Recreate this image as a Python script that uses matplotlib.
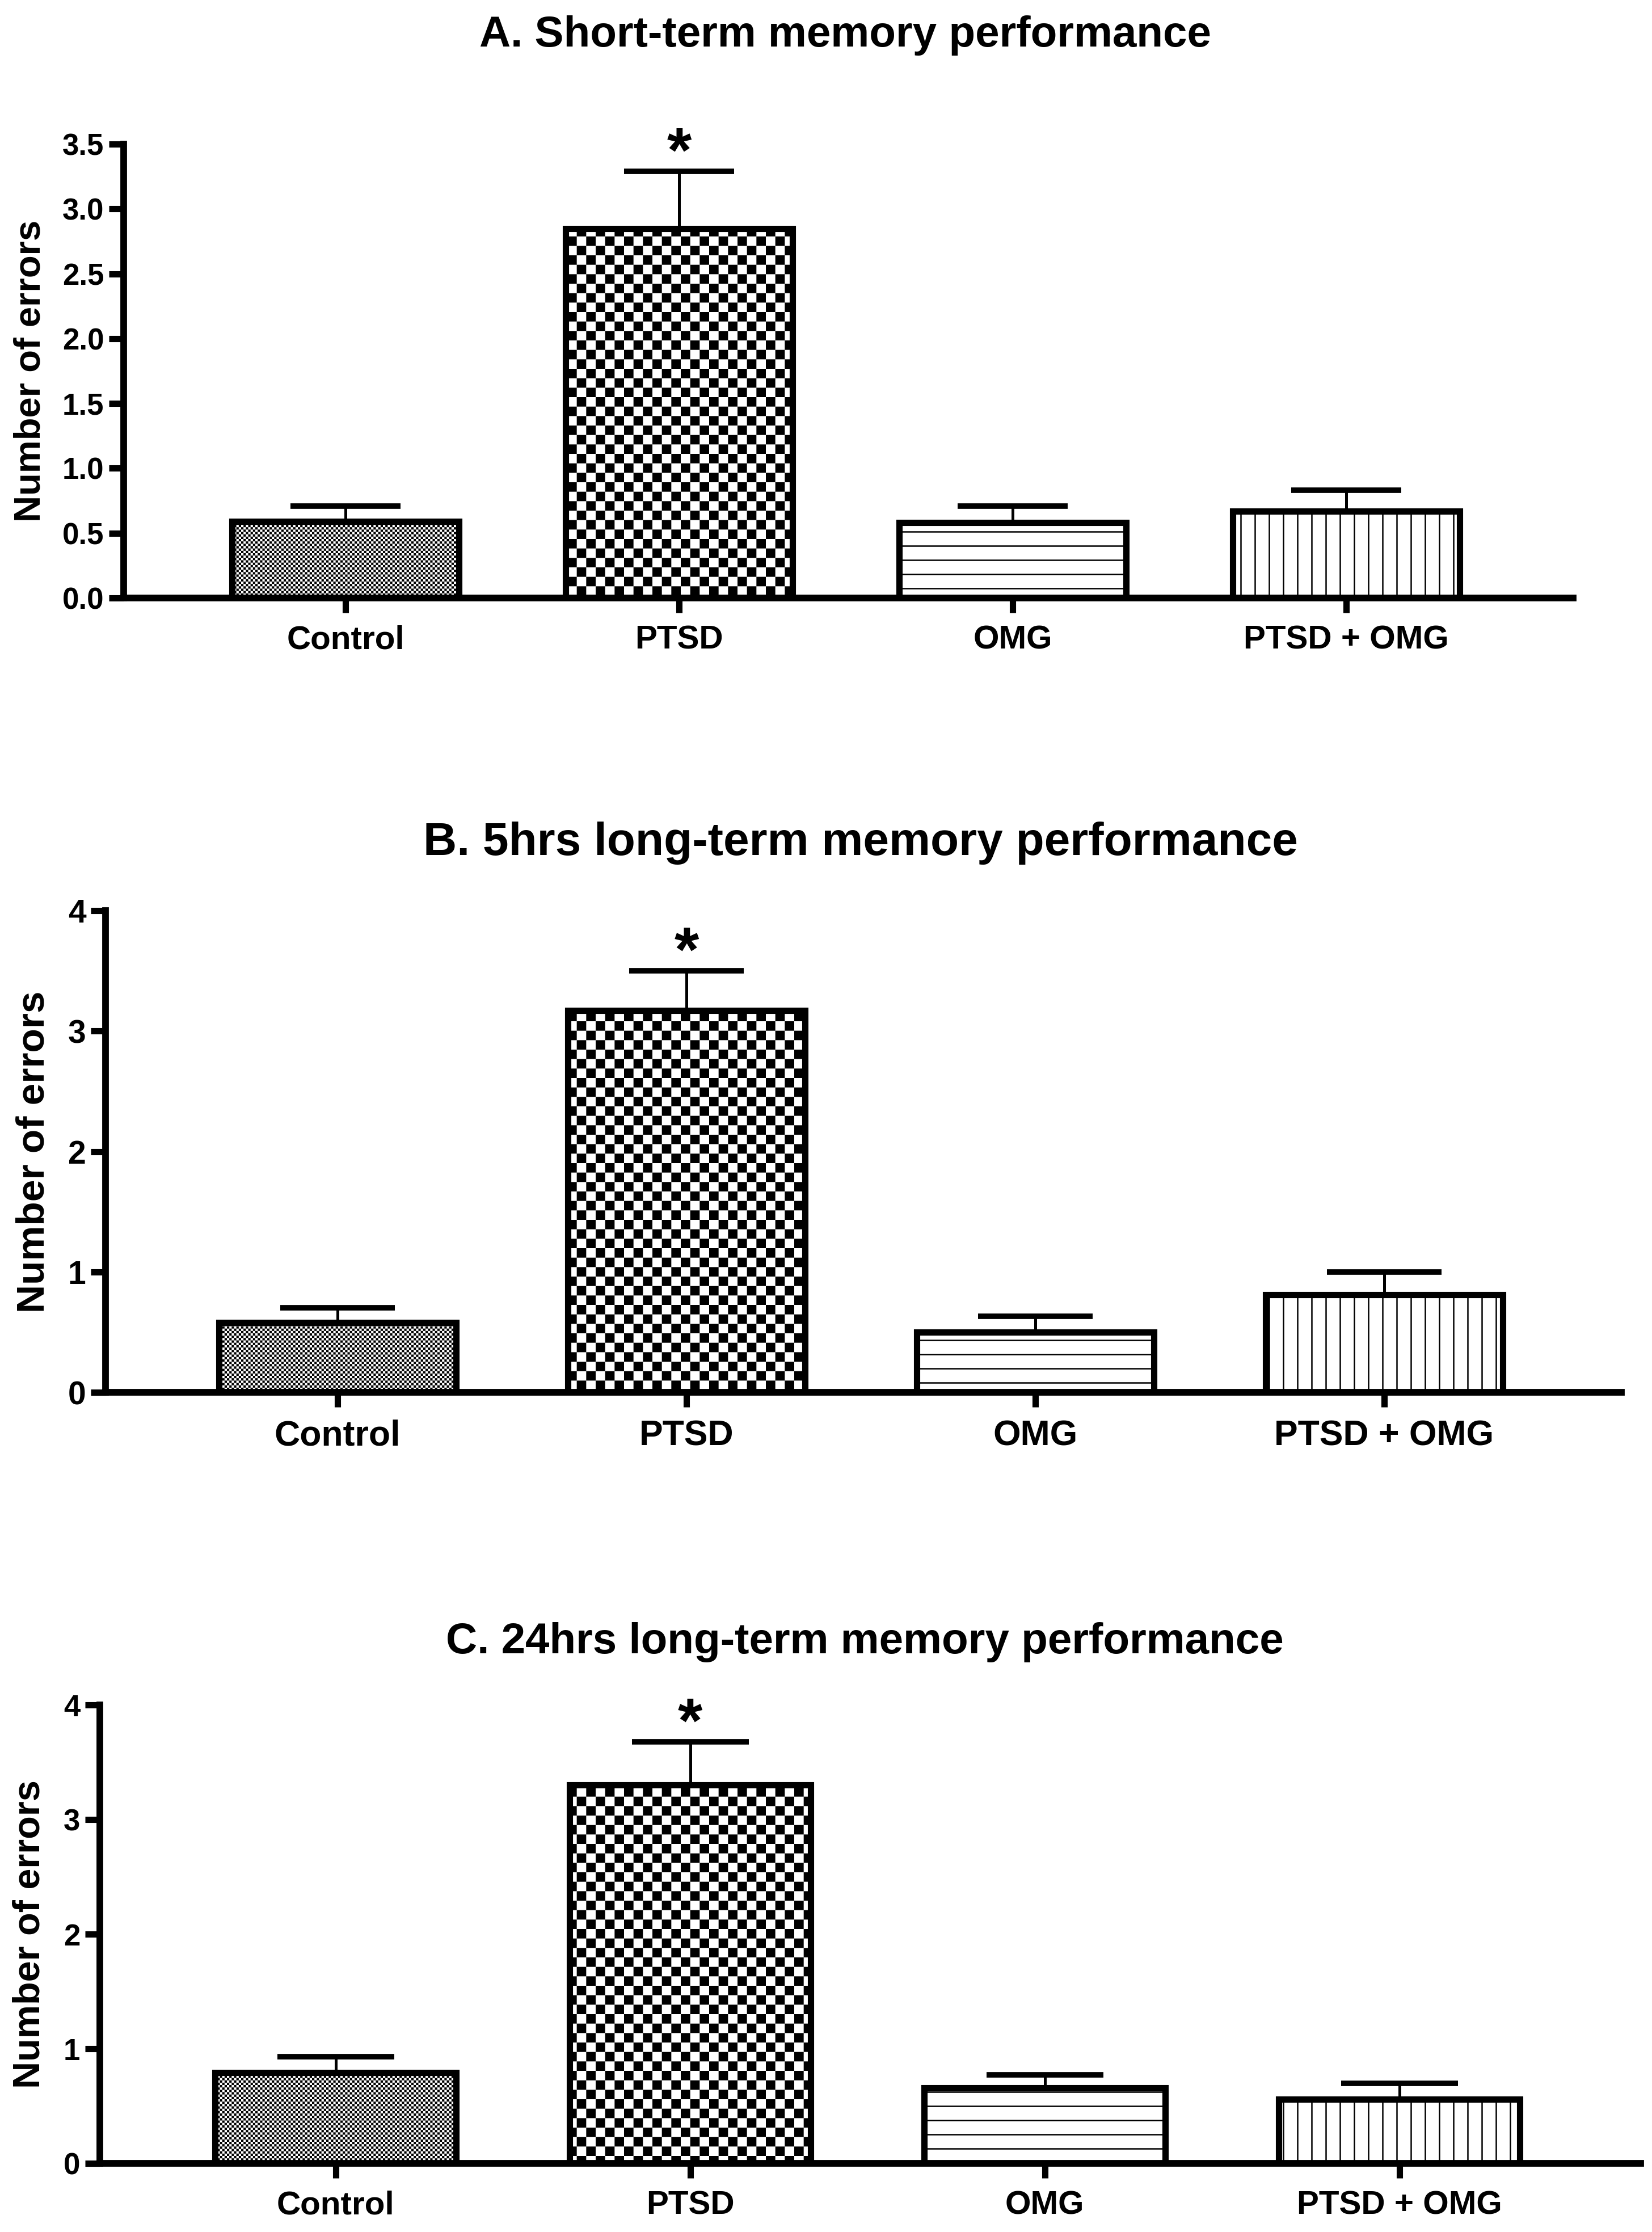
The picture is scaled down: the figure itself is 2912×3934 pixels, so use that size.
import numpy as np
import matplotlib
matplotlib.use('Agg')
import matplotlib as mpl
import matplotlib.pyplot as plt
import matplotlib.hatch as mhatch
from matplotlib.path import Path

# ---------------- data ----------------
groups = ['Control', 'PTSD', 'OMG', 'PTSD + OMG']
titles = ['A. Short-term memory performance',
          'B. 5hrs long-term memory performance',
          'C. 24hrs long-term memory performance']
ylabel_text = 'Number of errors'

means_a = [0.59, 2.85, 0.58, 0.67]
sem_a = [0.12, 0.44, 0.13, 0.16]
means_b = [0.58, 3.17, 0.50, 0.81]
sem_b = [0.12, 0.33, 0.13, 0.19]
means_c = [0.79, 3.30, 0.66, 0.56]
sem_c = [0.14, 0.38, 0.11, 0.14]

yticks_a = [0.0, 0.5, 1.0, 1.5, 2.0, 2.5, 3.0, 3.5]
yticklabels_a = ['0.0', '0.5', '1.0', '1.5', '2.0', '2.5', '3.0', '3.5']
yticks_bc = [0, 1, 2, 3, 4]
yticklabels_bc = ['0', '1', '2', '3', '4']
significant = ['', '*', '', '']

# ---------------- custom hatch patterns ----------------
mpl.rcParams['hatch.linewidth'] = 1.8


class _Lines(mhatch.HatchPatternBase):
    char = '-'
    per_tile = 4
    vertical = False

    def __init__(self, hatch, density):
        self.num_lines = self.per_tile * hatch.count(self.char)
        self.num_vertices = self.num_lines * 2

    def set_vertices_and_codes(self, vertices, codes):
        steps = (np.arange(self.num_lines) + 0.5) / self.num_lines
        a, b = (0, 1) if self.vertical else (1, 0)
        vertices[0::2, a] = steps
        vertices[0::2, b] = 0.0
        vertices[1::2, a] = steps
        vertices[1::2, b] = 1.0
        codes[0::2] = Path.MOVETO
        codes[1::2] = Path.LINETO


class _HLines(_Lines):
    char = '-'
    vertical = False


class _VLines(_Lines):
    char = '|'
    vertical = True


class _Checker(mhatch.HatchPatternBase):
    char = 'o'
    periods = 12
    filled = True

    def __init__(self, hatch, density):
        self.n = self.periods * 2 if self.char in hatch else 0
        self.cells = [(i, j) for i in range(self.n) for j in range(self.n)
                      if (i + j) % 2 == 0]
        self.num_vertices = len(self.cells) * 5

    def set_vertices_and_codes(self, vertices, codes):
        s = 1.0 / self.n
        g = min(mpl.rcParams['hatch.linewidth'] / 72.0, s * 0.8) / 2.0
        for k, (i, j) in enumerate(self.cells):
            x0, y0 = i * s + g, j * s + g
            x1, y1 = (i + 1) * s - g, (j + 1) * s - g
            vertices[5 * k:5 * k + 5] = [(x0, y0), (x1, y0), (x1, y1),
                                         (x0, y1), (x0, y0)]
            codes[5 * k:5 * k + 5] = [Path.MOVETO, Path.LINETO, Path.LINETO,
                                      Path.LINETO, Path.CLOSEPOLY]


class _SmallChecker(_Checker):
    char = 'o'
    periods = 12


class _LargeChecker(_Checker):
    char = 'O'
    periods = 3


mhatch._hatch_types[:] = [_HLines, _VLines, _SmallChecker, _LargeChecker]
hatches = ['o', 'O', '-', '|']

# ---------------- figure ----------------
plt.rcParams['font.family'] = ['Liberation Sans', 'DejaVu Sans']
plt.rcParams['font.weight'] = 'bold'

W, H = 2912, 3934
DPI = 100
fig = plt.figure(figsize=(W / DPI, H / DPI), dpi=DPI)

panels = [
    dict(means=means_a, sem=sem_a, ymax=3.5, yticks=yticks_a, ylabels=yticklabels_a,
         rect=(218, 1054, 2555, 800), title_xy=(1490, 82), title_fs=55,
         ylab_xy=(54, 654), ylab_fs=47, ytick_fs=38, xtick_fs=42, cap=70),
    dict(means=means_b, sem=sem_b, ymax=4, yticks=yticks_bc, ylabels=yticklabels_bc,
         rect=(186, 2454, 2672, 849), title_xy=(1517, 1507), title_fs=59,
         ylab_xy=(60, 2030), ylab_fs=50, ytick_fs=41, xtick_fs=45, cap=73),
    dict(means=means_c, sem=sem_c, ymax=4, yticks=yticks_bc, ylabels=yticklabels_bc,
         rect=(176, 3813, 2716, 808), title_xy=(1524, 2914), title_fs=55,
         ylab_xy=(53, 3409), ylab_fs=48, ytick_fs=38, xtick_fs=42, cap=74),
]

x = np.arange(len(groups))
for p, title in zip(panels, titles):
    l, b, w, h = p['rect']
    ax = fig.add_axes([l / W, 1 - b / H, w / W, h / H])
    bars = ax.bar(x, p['means'], width=0.68, color='white', edgecolor='black',
                  linewidth=8, zorder=2)
    for bar, ht in zip(bars, hatches):
        bar.set_hatch(ht)
    eb = ax.errorbar(x, p['means'], yerr=[np.zeros(len(x)), p['sem']], fmt='none',
                     ecolor='black', elinewidth=3.6, capsize=p['cap'], capthick=7,
                     zorder=3, clip_on=False)
    for cl in eb[1]:
        if np.allclose(cl.get_ydata(), p['means']):
            cl.set_visible(False)
    tops = np.array(p['means']) + np.array(p['sem'])
    for xi, t, s in zip(x, tops, significant):
        if s:
            ax.annotate(s, xy=(xi, t), xytext=(0, -17), textcoords='offset points',
                        ha='center', va='bottom', fontsize=80, fontweight='bold')
    ax.set_xlim(-0.665, 3.68)
    ax.set_ylim(0, p['ymax'])
    ax.set_xticks(x)
    ax.set_xticklabels(groups, fontsize=p['xtick_fs'], fontweight='bold')
    ax.set_yticks(p['yticks'])
    ax.set_yticklabels(p['ylabels'], fontsize=p['ytick_fs'], fontweight='bold')
    for side in ['top', 'right']:
        ax.spines[side].set_visible(False)
    for side in ['left', 'bottom']:
        ax.spines[side].set_linewidth(8.5)
        ax.spines[side].set_capstyle('projecting')
    ax.tick_params(axis='both', direction='out', length=19, width=8)
    ax.tick_params(axis='y', pad=6)
    ax.tick_params(axis='x', pad=15)
    ax.set_facecolor('none')
    fig.text(p['title_xy'][0] / W, 1 - p['title_xy'][1] / H, title,
             ha='center', va='baseline', fontsize=p['title_fs'], fontweight='bold')
    fig.text(p['ylab_xy'][0] / W, 1 - p['ylab_xy'][1] / H, ylabel_text,
             rotation=90, ha='center', va='center', fontsize=p['ylab_fs'],
             fontweight='bold')

fig.savefig('out.png', dpi=DPI, facecolor='white')
